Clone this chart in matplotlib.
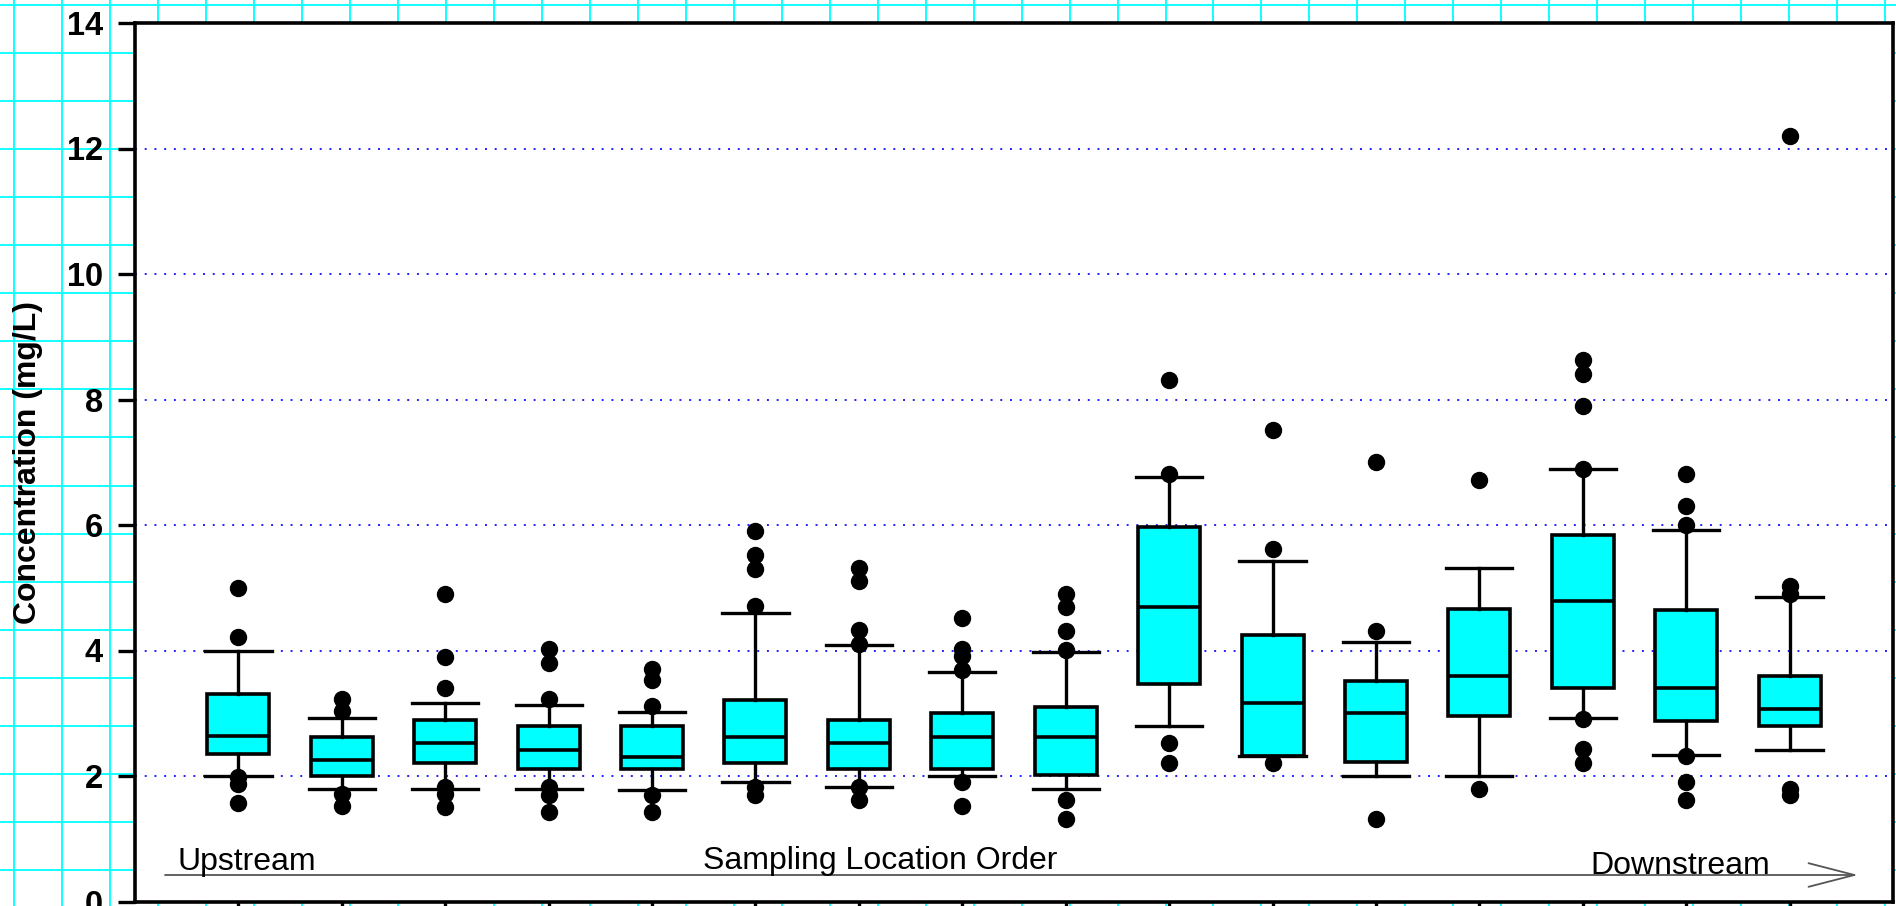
import matplotlib
matplotlib.use("Agg")
import matplotlib.pyplot as plt
import numpy as np

plt.rcParams['font.family'] = ['Liberation Sans', 'DejaVu Sans']

# ---------------- data ----------------
positions = list(range(1, 17))
q1 = [2.35, 2.00, 2.21, 2.11, 2.11, 2.21, 2.11, 2.11, 2.02, 3.46, 2.32, 2.23, 2.96, 3.41, 2.87, 2.80]
med = [2.63, 2.25, 2.52, 2.41, 2.31, 2.62, 2.52, 2.62, 2.62, 4.70, 3.16, 3.01, 3.60, 4.79, 3.41, 3.07]
q3 = [3.31, 2.62, 2.90, 2.79, 2.80, 3.21, 2.90, 3.01, 3.10, 5.97, 4.25, 3.51, 4.66, 5.84, 4.65, 3.59]
whis_lo = [2.00, 1.80, 1.80, 1.80, 1.78, 1.90, 1.82, 2.00, 1.80, 2.80, 2.32, 2.00, 2.00, 2.93, 2.33, 2.41]
whis_hi = [4.00, 2.92, 3.17, 3.13, 3.02, 4.59, 4.09, 3.66, 3.98, 6.76, 5.42, 4.14, 5.31, 6.90, 5.92, 4.86]
fliers = [
    [5.00, 4.21, 1.99, 1.87, 1.57],
    [3.22, 3.03, 1.71, 1.52],
    [4.90, 3.90, 3.41, 1.82, 1.71, 1.51],
    [4.03, 3.80, 3.22, 1.82, 1.70, 1.42],
    [3.70, 3.53, 3.12, 1.70, 1.42],
    [5.90, 5.52, 5.30, 4.71, 1.82, 1.70],
    [5.32, 5.11, 4.32, 4.11, 1.82, 1.61],
    [4.51, 4.02, 3.91, 3.69, 1.90, 1.52],
    [4.90, 4.70, 4.31, 4.01, 1.62, 1.31],
    [8.31, 6.82, 2.52, 2.21],
    [7.51, 5.61, 2.20],
    [7.00, 4.31, 1.31],
    [6.72, 1.80],
    [8.63, 8.41, 7.90, 6.90, 2.91, 2.43, 2.21],
    [6.82, 6.31, 6.00, 2.32, 1.91, 1.62],
    [12.20, 5.02, 4.90, 1.80, 1.70],
]
y_ticks = [0, 2, 4, 6, 8, 10, 12, 14]
y_label = "Concentration (mg/L)"
note_up = "Upstream"
note_mid = "Sampling Location Order"
note_down = "Downstream"

# ---------------- figure ----------------
W, H, DPI = 1896, 906, 100
fig = plt.figure(figsize=(W / DPI, H / DPI), dpi=DPI)
fig.patch.set_facecolor('white')

# graph-paper background
bg = fig.add_axes([0, 0, 1, 1], zorder=0)
bg.set_xlim(0, W)
bg.set_ylim(H, 0)
bg.axis('off')
bg.vlines(np.arange(14, W, 47.98), 0, H, color='#00ffff', lw=1.3)
bg.hlines(np.arange(4.5, H, 48.1), 0, W, color='#00ffff', lw=1.3)

ax = fig.add_axes([135 / W, 1 - 901.5 / H, (1893 - 135) / W, (901.5 - 23) / H], zorder=1)
ax.set_facecolor('white')

stats = []
for i in range(len(positions)):
    stats.append(dict(med=med[i], q1=q1[i], q3=q3[i], whislo=whis_lo[i],
                      whishi=whis_hi[i], fliers=fliers[i]))

ax.bxp(stats, positions=positions, widths=0.6, capwidths=0.64, patch_artist=True,
       boxprops=dict(facecolor='#00ffff', edgecolor='black', linewidth=2.6),
       medianprops=dict(color='black', linewidth=2.6),
       whiskerprops=dict(color='black', linewidth=2.4),
       capprops=dict(color='black', linewidth=2.4),
       flierprops=dict(marker='o', markerfacecolor='black', markeredgecolor='black',
                       markersize=11.5),
       showfliers=True, manage_ticks=False)

ax.set_xlim(0, 17)
ax.set_ylim(0, 14)
ax.set_yticks(y_ticks)
ax.set_xticks(positions)
ax.set_xticklabels([])
ax.yaxis.grid(True, color='#2020ff', linestyle=(0, (1, 4)), linewidth=1.4)
ax.set_axisbelow(True)
ax.tick_params(axis='y', length=12, width=2.4, pad=11, labelsize=23.5, direction='out')
ax.tick_params(axis='x', length=12, width=2.4, direction='out')
for lbl in ax.get_yticklabels():
    lbl.set_fontweight('bold')
for sp in ax.spines.values():
    sp.set_linewidth(2.6)
    sp.set_color('black')

fig.text(28 / W, 1 - 462 / H, y_label, rotation=90, fontsize=23, fontweight='bold',
         ha='center', va='center')

# flow annotation
ax.annotate('', xy=(1858 / W, 1 - 875 / H), xytext=(165 / W, 1 - 875 / H),
            xycoords='figure fraction', textcoords='figure fraction',
            arrowprops=dict(arrowstyle='->,head_length=3.3,head_width=0.85',
                            lw=1.3, color='#555555', shrinkA=0, shrinkB=0,
                            mutation_scale=10))
fig.text(178 / W, 1 - 870 / H, note_up, fontsize=23, ha='left', va='baseline')
fig.text(703 / W, 1 - 869 / H, note_mid, fontsize=23, ha='left', va='baseline')
fig.text(1590 / W, 1 - 874 / H, note_down, fontsize=23, ha='left', va='baseline')

fig.savefig('out.png', dpi=DPI)
